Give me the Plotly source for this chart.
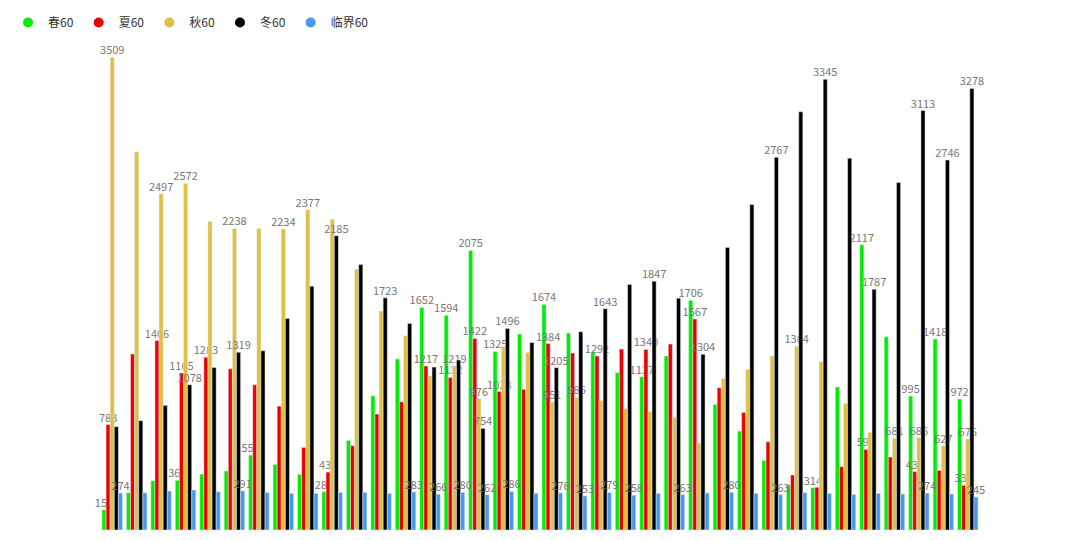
import plotly.graph_objects as go

cats = [str(i) for i in range(36)]
names = ["春60", "夏60", "秋60", "冬60", "临界60"]
colors = ["#00ee00", "#ee0000", "#e0c040", "#000000", "#4499ee"]

spring = [150,277,366,369,415,438,556,487,413,285,665,997,1269,1652,1594,2075,1325,1454,1674,1462,1318,1168,1137,1291,1706,932,734,517,336,314,1061,2117,1434,995,1418,972]
summer = [783,1306,1406,1165,1283,1197,1078,920,613,430,626,861,952,1217,1132,1422,1028,1044,1384,1313,1292,1343,1340,1380,1567,1056,873,655,408,317,470,598,542,434,443,332]
autumn = [3509,2807,2497,2572,2290,2238,2238,2234,2377,2307,1936,1625,1442,1143,1219,976,1353,1318,951,986,960,900,878,838,646,1125,1194,1291,1364,1249,940,725,681,686,627,676]
winter = [767,811,925,1078,1207,1319,1330,1570,1810,2185,1971,1723,1533,1209,1261,754,1496,1392,1205,1472,1643,1823,1847,1721,1304,2097,2416,2767,3104,3345,2760,1787,2579,3113,2746,3278]
critical = [274,277,289,297,284,291,279,272,272,279,279,272,283,266,280,262,286,272,276,253,279,258,272,263,275,280,272,263,277,272,265,272,267,274,267,245]

shown = {
    0: [0,3,6,9,13,14,15,16,18,22,24,29,31,33,34,35],
    1: [0,2,3,4,9,13,14,15,16,18,20,22,24,31,33,35],
    2: [0,2,3,5,7,8,14,15,18,19,28,32,33,34,35],
    3: [3,5,9,11,15,16,18,20,22,24,27,29,31,33,34,35],
    4: [0,5,12,13,14,15,16,18,19,20,21,23,25,27,33,35],
}

series = [spring, summer, autumn, winter, critical]
fig = go.Figure()
for k, (nm, col, vals) in enumerate(zip(names, colors, series)):
    txt = [str(v) if i in shown[k] else "" for i, v in enumerate(vals)]
    fig.add_trace(go.Bar(x=cats, y=vals, name=nm, marker_color=col, text=txt,
                         textposition="outside", cliponaxis=False, constraintext="none",
                         textfont=dict(color="#777", size=11), showlegend=False))
    fig.add_trace(go.Scatter(x=[None], y=[None], mode="markers", name=nm,
                             marker=dict(color=col, size=10, symbol="circle")))

fig.update_layout(
    width=1080, height=540, barmode="group", bargap=0.16, bargroupgap=0,
    plot_bgcolor="white", paper_bgcolor="white",
    margin=dict(l=92, r=108, t=37, b=18),
    font=dict(family="Noto Sans CJK SC, Noto Sans", color="#333", size=12),
    legend=dict(orientation="h", x=0, y=1, xref="container", yref="container", xanchor="left", yanchor="top",
                font=dict(size=12, color="#333"), itemwidth=30),
    xaxis=dict(visible=False),
    yaxis=dict(visible=False, range=[0, 3600]),
)
fig.write_html("out.html")
